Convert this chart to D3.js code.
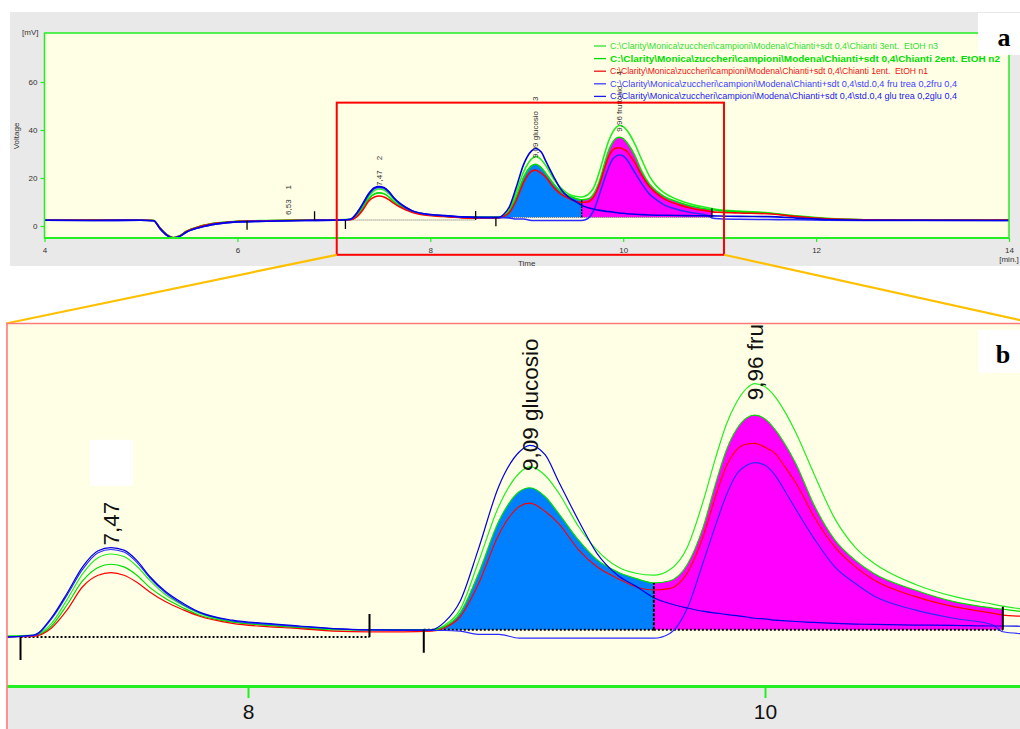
<!DOCTYPE html>
<html><head><meta charset="utf-8">
<script src="https://cdn.jsdelivr.net/npm/d3@7"></script>
<style>
html,body{margin:0;padding:0;background:#fff;}
svg{display:block;font-family:"Liberation Sans",Arial,sans-serif;}
</style></head><body>
<svg id="chart" width="1020" height="729"></svg>
<script>
// Retention time grid (min) shared by every chromatogram
const times = [4.0, 4.5, 5.0, 5.13, 5.2, 5.27, 5.335, 5.4, 5.47, 5.61, 5.79, 5.96, 6.3, 6.7, 7.0,
  7.17, 7.24, 7.30, 7.36, 7.42, 7.47, 7.52, 7.57, 7.62, 7.68, 7.75, 7.81, 7.94, 8.07, 8.2, 8.33, 8.47, 8.6, 8.71,
  8.76, 8.82, 8.89, 8.97, 9.05, 9.09, 9.15, 9.20, 9.28, 9.35, 9.43, 9.50, 9.57, 9.63, 9.70, 9.76, 9.81, 9.85,
  9.89, 9.93, 9.96, 10.0, 10.04, 10.08, 10.12, 10.19, 10.27, 10.35, 10.42, 10.58, 10.73, 10.88, 10.92, 11.0,
  11.2, 11.5, 11.8, 12.1, 12.5, 13.0, 14.0];

// Detector signal (mV) of each run
const chiantiN3 = [2.6, 2.6, 2.5, 2.3, -0.9, -3.6, -4.8, -4.1, -2.2, -0.1, 1.3, 1.9, 2.3, 2.5, 2.6,
  2.8, 4.6, 8.3, 12.3, 14.8, 15.4, 15.0, 13.5, 11.3, 9.1, 7.4, 6.2, 4.9, 4.4, 4.0, 3.7, 3.6, 3.6, 3.6,
  4.3, 6.7, 14.0, 22.8, 28.0, 29.0, 27.6, 25.0, 19.6, 16.0, 13.4, 12.4, 12.1, 12.9, 16.5, 23.5, 30.5, 35.5,
  39.0, 41.2, 41.9, 41.4, 39.8, 37.3, 34.2, 27.8, 20.9, 16.4, 14.0, 10.7, 8.8, 7.6, 7.3, 6.8,
  6.2, 5.5, 4.2, 3.2, 2.6, 2.5, 2.5];
const chiantiN2 = [2.5, 2.5, 2.5, 2.3, -1.0, -3.7, -4.9, -4.2, -2.3, -0.2, 1.2, 1.8, 2.2, 2.4, 2.5,
  2.7, 4.2, 7.5, 11.2, 13.3, 13.8, 13.4, 12.1, 10.2, 8.5, 7.0, 5.9, 4.8, 4.3, 3.9, 3.6, 3.6, 3.6, 3.6,
  4.1, 6.2, 12.2, 20.5, 25.1, 25.7, 24.3, 21.8, 17.5, 14.5, 12.6, 11.6, 10.9, 11.2, 13.8, 19.5, 26.5, 31.5,
  34.8, 36.6, 37.0, 36.4, 34.7, 32.3, 29.4, 23.0, 17.6, 14.4, 12.4, 9.8, 8.0, 7.0, 6.8, 6.4,
  5.9, 5.3, 4.0, 3.1, 2.6, 2.5, 2.5];
const chiantiN1 = [2.5, 2.5, 2.5, 2.3, -1.0, -3.7, -4.9, -4.2, -2.3, -0.2, 1.2, 1.8, 2.2, 2.4, 2.5,
  2.6, 3.9, 6.7, 10.3, 12.1, 12.5, 12.1, 11.0, 9.5, 8.0, 6.7, 5.75, 4.6, 4.1, 3.8, 3.4, 3.3, 3.3, 3.4,
  3.9, 5.6, 10.6, 18.4, 22.8, 23.3, 22.0, 20.2, 16.0, 13.4, 11.6, 10.3, 9.8, 10.0, 12.5, 18.0, 24.5, 29.0,
  31.6, 32.5, 32.6, 32.0, 31.0, 28.8, 26.4, 21.2, 16.5, 13.4, 11.4, 8.8, 7.2, 6.2, 5.9, 5.7,
  5.4, 5.1, 3.9, 3.0, 2.6, 2.5, 2.5];
const stdFru = [2.4, 2.3, 2.4, 2.2, -1.2, -3.9, -5.0, -4.4, -2.6, -0.6, 0.9, 1.6, 2.0, 2.3, 2.4,
  2.7, 5.3, 9.0, 13.0, 15.6, 16.1, 15.7, 14.1, 11.7, 9.4, 7.5, 6.3, 5.0, 4.5, 4.1, 3.8, 3.6, 3.5, 3.5,
  3.5, 3.4, 2.9, 2.9, 2.3, 2.3, 2.3, 2.3, 2.3, 2.3, 2.3, 2.3, 2.3, 3.0, 7.0, 14.0, 20.0, 24.5,
  27.8, 29.2, 29.6, 29.2, 27.6, 25.0, 22.3, 17.8, 13.4, 10.8, 8.9, 6.7, 5.4, 4.4, 3.3, 3.0,
  2.8, 2.7, 2.6, 2.4, 2.3, 2.3, 2.3];
const stdGlu = [2.4, 2.3, 2.4, 2.2, -1.2, -3.9, -5.0, -4.4, -2.6, -0.6, 0.9, 1.6, 2.0, 2.3, 2.4,
  2.8, 5.5, 9.3, 13.4, 15.9, 16.4, 16.0, 14.4, 11.9, 9.6, 7.7, 6.4, 5.1, 4.6, 4.2, 3.8, 3.6, 3.6, 3.6,
  4.8, 8.0, 16.0, 25.9, 31.3, 32.3, 30.8, 26.8, 20.5, 15.5, 12.1, 10.4, 8.6, 7.7, 7.0, 6.5, 6.2, 6.0,
  5.8, 5.6, 5.4, 5.3, 5.1, 5.0, 4.9, 4.75, 4.6, 4.5, 4.45, 4.35, 4.3, 4.2, 4.2, 4.15,
  4.0, 3.9, 3.3, 2.7, 2.4, 2.4, 2.3];

const runFiles = [
  "C:\\Clarity\\Monica\\zuccheri\\campioni\\Modena\\Chianti+sdt 0,4\\Chianti 3ent.  EtOH n3",
  "C:\\Clarity\\Monica\\zuccheri\\campioni\\Modena\\Chianti+sdt 0,4\\Chianti 2ent. EtOH n2",
  "C:\\Clarity\\Monica\\zuccheri\\campioni\\Modena\\Chianti+sdt 0,4\\Chianti 1ent.  EtOH n1",
  "C:\\Clarity\\Monica\\zuccheri\\campioni\\Modena\\Chianti+sdt 0,4\\std.0,4 fru trea 0,2fru 0,4",
  "C:\\Clarity\\Monica\\zuccheri\\campioni\\Modena\\Chianti+sdt 0,4\\std.0,4 glu trea 0,2glu 0,4"
];

// Integrated peaks of the active run (n2)
const peakTimes = [6.53, 7.47, 9.09, 9.96];
const peakNames = ["", "", "glucosio", "fruttosio"];
const peakIds = ["1", "2", "3", "4"];
const peakLabelLevel = [4.6, 16.7, 28.3, 39.3];
const peakStart = [6.10, 7.12, 8.68, 9.57];
const peakEnd = [6.80, 8.47, 9.57, 10.92];
const peakBaseStart = [2.2, 2.5, 3.6, 3.6];
const peakBaseEnd = [2.4, 2.5, 3.6, 3.6];
const peakFills = ["none", "none", "#0080ff", "#ff00ff"];

const xTicks = [4, 6, 8, 10, 12, 14];
const yTicks = [0, 20, 40, 60];
const zoomTime = [7.03, 11.045];
const zoomVolt = [-12, 51.4];

// ---- styling ----
const traceColors = ["#22ee22", "#00dd00", "#ff0000", "#2b2bff", "#0000e6"];
const legendColors = ["#33dd33", "#00dd00", "#ee1111", "#3d3dff", "#1a1aee"];
const legendWidths = [328, 390, 318, 347, 347];
const axisGreen = "#22ee22";
const plotBg = "#ffffe6";
const frameBg = "#e9e9e9";

const series = [chiantiN3, chiantiN2, chiantiN1, stdFru, stdGlu].map(vals =>
  times.map((t, i) => ({t, v: vals[i]})));
const activeRun = series[1];

const svg = d3.select("#chart");
const defs = svg.append("defs");
const fmtTime = t => d3.format(".2f")(t).replace(".", ",");
const valueAt = (pts, t) => { const p = pts.find(d => Math.abs(d.t - t) < 1e-9); return p ? p.v : null; };

// Chromatogram drawing shared by the overview and the magnified view
function drawChromatogram(g, x, y, o) {
  // integrated areas
  peakFills.forEach((fill, i) => {
    if (fill === "none") return;
    const base = d3.scaleLinear().domain([peakStart[i], peakEnd[i]]).range([peakBaseStart[i], peakBaseEnd[i]]);
    const pts = activeRun.filter(d => d.t >= peakStart[i] - 1e-9 && d.t <= peakEnd[i] + 1e-9);
    g.append("path").datum(pts)
      .attr("d", d3.area().x(d => x(d.t)).y0(d => y(base(d.t))).y1(d => y(d.v)).curve(d3.curveMonotoneX))
      .attr("fill", fill);
  });
  // peak baselines
  peakStart.forEach((s, i) => {
    g.append("line")
      .attr("x1", x(s)).attr("y1", y(peakBaseStart[i]))
      .attr("x2", x(peakEnd[i])).attr("y2", y(peakBaseEnd[i]))
      .attr("stroke", o.dotColor).attr("stroke-width", o.dotWidth)
      .attr("stroke-dasharray", o.dotDash);
  });
  // traces
  const line = d3.line().x(d => x(d.t)).y(d => y(d.v)).curve(d3.curveMonotoneX);
  series.forEach((pts, i) => {
    g.append("path").datum(pts).attr("d", line)
      .attr("fill", "none").attr("stroke", traceColors[i])
      .attr("stroke-width", o.lineWidth).attr("stroke-linejoin", "round");
  });
  // peak start / end markers
  peakStart.forEach((s, i) => {
    if (i === 0 || Math.abs(peakEnd[i - 1] - s) > 1e-9) {
      g.append("line").attr("x1", x(s)).attr("x2", x(s))
        .attr("y1", y(peakBaseStart[i])).attr("y2", y(peakBaseStart[i]) + o.tickLen)
        .attr("stroke", "#000").attr("stroke-width", o.tickWidth);
    }
    const e = peakEnd[i];
    if (i < peakStart.length - 1 && Math.abs(peakStart[i + 1] - e) < 1e-9) {
      g.append("line").attr("x1", x(e)).attr("x2", x(e))
        .attr("y1", y(peakBaseEnd[i])).attr("y2", y(valueAt(activeRun, e)))
        .attr("stroke", "#000").attr("stroke-width", o.tickWidth)
        .attr("stroke-dasharray", o.dropDash);
    } else {
      g.append("line").attr("x1", x(e)).attr("x2", x(e))
        .attr("y1", y(peakBaseEnd[i])).attr("y2", y(peakBaseEnd[i]) - o.tickLen)
        .attr("stroke", "#000").attr("stroke-width", o.tickWidth);
    }
  });
}

function drawPeakLabels(g, x, y, o) {
  const labels = [];
  peakTimes.forEach((t, i) => {
    if (t < o.minTime) return;
    const lx = x(t) + o.fontSize * 0.36, ly = y(peakLabelLevel[i]);
    const txt = g.append("text")
      .attr("transform", `translate(${lx},${ly}) rotate(-90)`)
      .attr("font-size", o.fontSize).attr("fill", o.color)
      .text(fmtTime(t) + (peakNames[i] ? " " + peakNames[i] : ""));
    if (o.showIds) txt.append("tspan").attr("dx", o.idGap).text(peakIds[i]);
    labels.push({i, x: x(t), y: ly, len: txt.node().getComputedTextLength()});
  });
  return labels;
}

// ================= overview (a) =================
const xTop = d3.scaleLinear().domain([4, 14]).range([44.5, 1009]);
const yTop = d3.scaleLinear().domain([-5, 80]).range([238, 34]);

svg.append("rect").attr("x", 10).attr("y", 12).attr("width", 1010).attr("height", 254).attr("fill", frameBg);
svg.append("rect").attr("x", xTop(4)).attr("y", 33).attr("width", xTop(14) - xTop(4)).attr("height", 205).attr("fill", plotBg);

defs.append("clipPath").attr("id", "clipTop").append("rect")
  .attr("x", xTop(4)).attr("y", 33).attr("width", xTop(14) - xTop(4)).attr("height", 205);
const gTop = svg.append("g").attr("clip-path", "url(#clipTop)");
drawChromatogram(gTop, xTop, yTop, {lineWidth: 1.6, tickLen: 9, tickWidth: 1.3, dotColor: "#666",
  dotWidth: 1, dotDash: "1,1", dropDash: "2,1"});

// plot frame
svg.append("rect").attr("x", xTop(4)).attr("y", 33).attr("width", xTop(14) - xTop(4)).attr("height", 205)
  .attr("fill", "none").attr("stroke", axisGreen).attr("stroke-width", 1.5);
svg.append("line").attr("x1", xTop(4)).attr("x2", xTop(14)).attr("y1", 238).attr("y2", 238)
  .attr("stroke", axisGreen).attr("stroke-width", 2);

// axes
const xAxisTop = svg.append("g").attr("transform", "translate(0,238)")
  .call(d3.axisBottom(xTop).tickValues(xTicks).tickSize(4).tickPadding(5).tickFormat(d3.format("d")));
xAxisTop.select(".domain").remove();
xAxisTop.selectAll("line").attr("stroke", axisGreen).attr("stroke-width", 1.2);
xAxisTop.selectAll("text").attr("font-size", 8).attr("fill", "#333").attr("font-family", "Liberation Sans, Arial, sans-serif");

const yAxisTop = svg.append("g").attr("transform", `translate(${xTop(4)},0)`)
  .call(d3.axisLeft(yTop).tickValues(yTicks).tickSize(4).tickPadding(3).tickFormat(d3.format("d")));
yAxisTop.select(".domain").remove();
yAxisTop.selectAll("line").attr("stroke", axisGreen).attr("stroke-width", 1.2);
yAxisTop.selectAll("text").attr("font-size", 8).attr("fill", "#333").attr("font-family", "Liberation Sans, Arial, sans-serif");

svg.append("text").attr("x", 22).attr("y", 35).attr("font-size", 8).attr("fill", "#333").text("[mV]");
svg.append("text").attr("transform", "translate(19,136) rotate(-90)").attr("text-anchor", "middle")
  .attr("font-size", 8).attr("fill", "#333").text("Voltage");
svg.append("text").attr("x", (xTop(4) + xTop(14)) / 2).attr("y", 266).attr("text-anchor", "middle")
  .attr("font-size", 8).attr("fill", "#333").text("Time");
svg.append("text").attr("x", xTop(14)).attr("y", 262).attr("text-anchor", "middle")
  .attr("font-size", 8).attr("fill", "#333").text("[min.]");

drawPeakLabels(svg.append("g"), xTop, yTop, {fontSize: 8, color: "#333", showIds: true, idGap: 10, minTime: 0});

// legend
const legend = svg.append("g");
runFiles.forEach((name, i) => {
  const ly = 46 + i * 12.6;
  legend.append("line").attr("x1", 594).attr("x2", 606).attr("y1", ly).attr("y2", ly)
    .attr("stroke", legendColors[i]).attr("stroke-width", 1.3);
  legend.append("text").attr("x", 610).attr("y", ly + 3)
    .attr("font-size", 8.5).attr("font-weight", i === 1 ? "bold" : "normal")
    .attr("fill", legendColors[i]).style("white-space", "pre")
    .attr("textLength", legendWidths[i]).attr("lengthAdjust", "spacingAndGlyphs")
    .text(name);
});

// zoom window
svg.append("rect")
  .attr("x", xTop(zoomTime[0])).attr("y", yTop(zoomVolt[1]))
  .attr("width", xTop(zoomTime[1]) - xTop(zoomTime[0])).attr("height", yTop(zoomVolt[0]) - yTop(zoomVolt[1]))
  .attr("fill", "none").attr("stroke", "#ff0000").attr("stroke-width", 2);

svg.append("rect").attr("x", 978).attr("y", 13).attr("width", 42).attr("height", 42).attr("fill", "#fff");
svg.append("text").attr("x", 1004).attr("y", 46).attr("text-anchor", "middle")
  .attr("font-family", "Liberation Serif, Times New Roman, serif").attr("font-weight", "bold")
  .attr("font-size", 26).attr("fill", "#000").text("a");

// ================= magnified view (b) =================
const xBot = d3.scaleLinear().domain([8, 10]).range([248, 765]);
const yBot = d3.scaleLinear().domain([0, 40]).range([653, 395.8]);
const panelLeft = 7, panelTop = 323.5, axisY = 686.5;

// connectors from the zoom window to the magnified panel
svg.append("line").attr("x1", xTop(zoomTime[0])).attr("y1", yTop(zoomVolt[0]))
  .attr("x2", panelLeft - 1).attr("y2", panelTop).attr("stroke", "#ffc000").attr("stroke-width", 2.2);
svg.append("line").attr("x1", xTop(zoomTime[1])).attr("y1", yTop(zoomVolt[0]))
  .attr("x2", xBot(zoomTime[1])).attr("y2", panelTop).attr("stroke", "#ffc000").attr("stroke-width", 2.2);

defs.append("clipPath").attr("id", "clipPanel").append("rect")
  .attr("x", panelLeft).attr("y", panelTop).attr("width", 1020 - panelLeft).attr("height", 729 - panelTop);
defs.append("clipPath").attr("id", "clipBotPlot").append("rect")
  .attr("x", panelLeft).attr("y", panelTop).attr("width", 1020 - panelLeft).attr("height", axisY - panelTop);

const panel = svg.append("g").attr("clip-path", "url(#clipPanel)");
panel.append("rect").attr("x", panelLeft).attr("y", panelTop).attr("width", 1020 - panelLeft)
  .attr("height", axisY - panelTop).attr("fill", plotBg);
panel.append("rect").attr("x", panelLeft).attr("y", axisY).attr("width", 1020 - panelLeft)
  .attr("height", 729 - axisY).attr("fill", frameBg);

const gBot = panel.append("g").attr("clip-path", "url(#clipBotPlot)");
drawChromatogram(gBot, xBot, yBot, {lineWidth: 1.2, tickLen: 23, tickWidth: 2, dotColor: "#000",
  dotWidth: 2, dotDash: "2,2", dropDash: "3,1.5"});

const botLabels = drawPeakLabels(panel.append("g"), xBot, yBot,
  {fontSize: 22.5, color: "#111", showIds: false, idGap: 0, minTime: 7.1});
// blank id box above the first labelled peak
botLabels.filter(l => l.i === 1).forEach(l => {
  panel.append("rect").attr("x", l.x - 21).attr("y", l.y - l.len - 62)
    .attr("width", 43).attr("height", 46).attr("fill", "#fff");
});

panel.append("line").attr("x1", panelLeft).attr("x2", 1020).attr("y1", axisY).attr("y2", axisY)
  .attr("stroke", axisGreen).attr("stroke-width", 3);
const xAxisBot = panel.append("g").attr("transform", `translate(0,${axisY + 1.5})`)
  .call(d3.axisBottom(xBot).tickValues(xTicks.filter(t => t > 7.1 && t < 11)).tickSize(10).tickPadding(6)
    .tickFormat(d3.format("d")));
xAxisBot.select(".domain").remove();
xAxisBot.selectAll("line").attr("stroke", axisGreen).attr("stroke-width", 2);
xAxisBot.selectAll("text").attr("font-size", 21).attr("fill", "#111").attr("font-family", "Liberation Sans, Arial, sans-serif");

svg.append("path").attr("d", `M${panelLeft},729 V${panelTop} H1020`)
  .attr("fill", "none").attr("stroke", "#ff7b7b").attr("stroke-width", 1.6);

svg.append("rect").attr("x", 978).attr("y", 330).attr("width", 42).attr("height", 43).attr("fill", "#fff");
svg.append("text").attr("x", 1003).attr("y", 363).attr("text-anchor", "middle")
  .attr("font-family", "Liberation Serif, Times New Roman, serif").attr("font-weight", "bold")
  .attr("font-size", 26).attr("fill", "#000").text("b");
</script>
</body></html>
